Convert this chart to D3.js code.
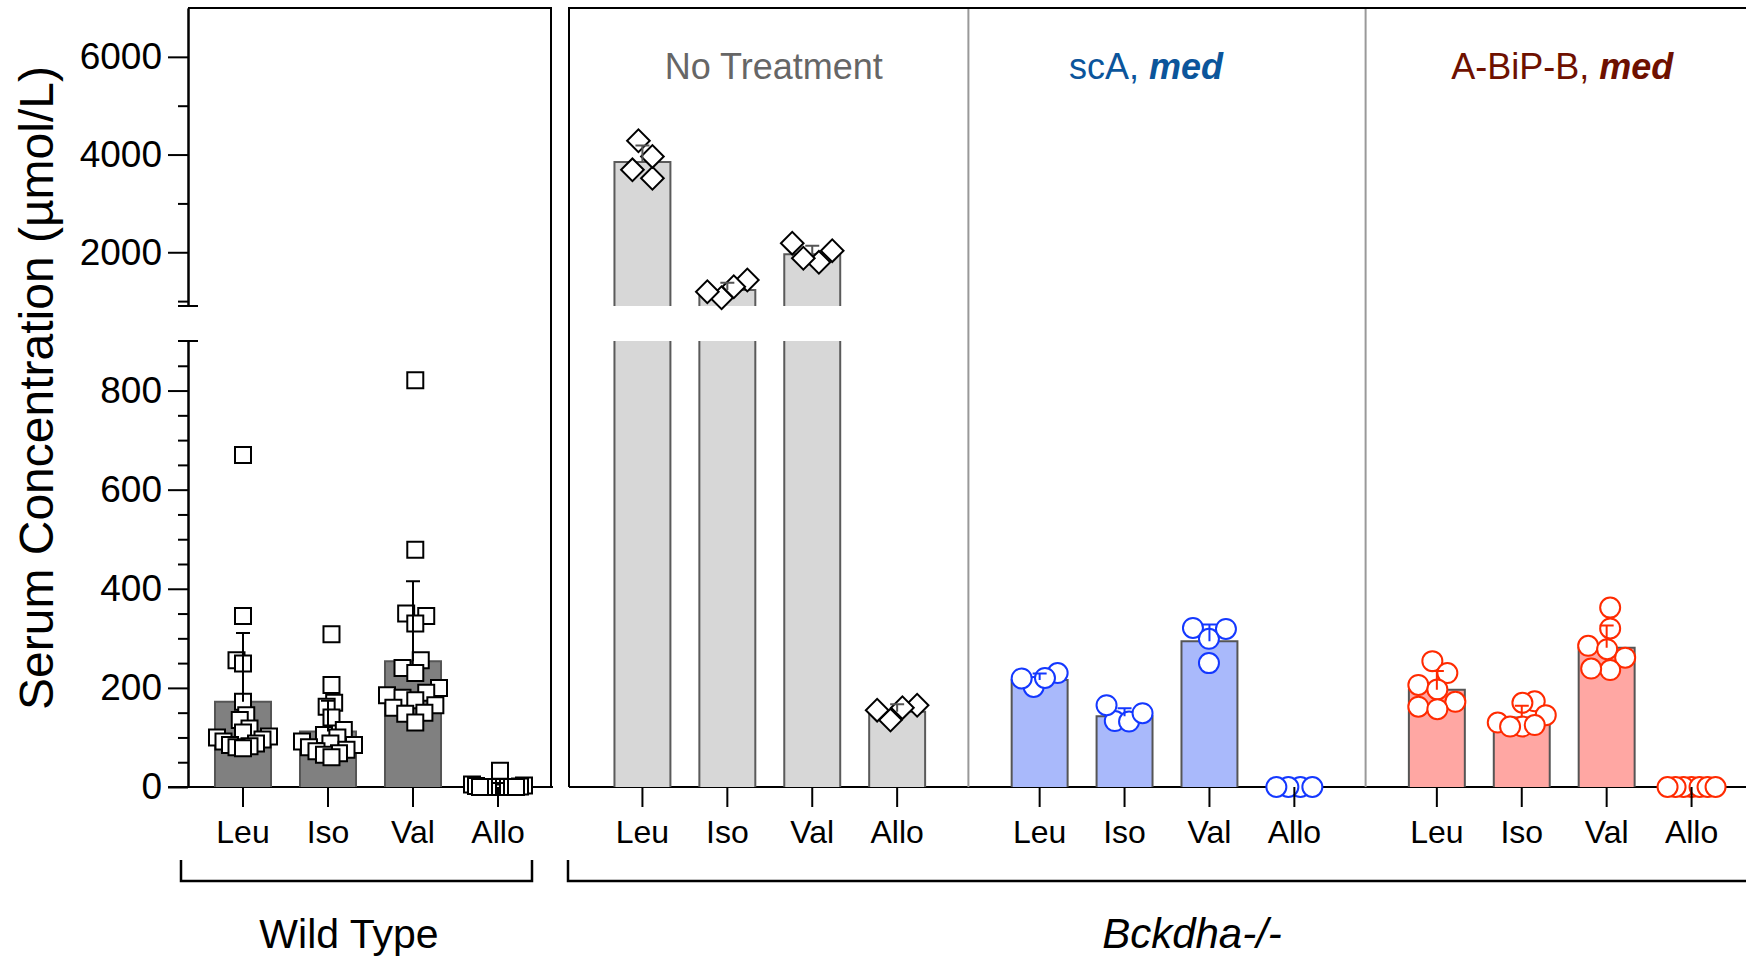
<!DOCTYPE html>
<html>
<head>
<meta charset="utf-8">
<script src="https://cdn.jsdelivr.net/npm/d3@7"></script>
<style>
    body { margin: 0; background: #fff; }
    svg { display: block; font-family: 'Liberation Sans', Arial, Helvetica, sans-serif; }
</style>
</head>
<body>
<svg id="chart"></svg>
<script>
// ---- data ----
const aminoAcids = ['Leu', 'Iso', 'Val', 'Allo'];
const treatments = ['No Treatment', 'scA', 'A-BiP-B'];

const wtMean = [172, 112, 254, 3];
const wtSD = [139, 62, 161, 5];
const wtPoints = [
    [670, 345, 256, 249, 172, 145, 135, 118, 110, 102, 100, 96, 92, 88, 85, 82, 80, 78],
    [308, 206, 170, 162, 140, 115, 105, 100, 92, 88, 85, 80, 75, 72, 68, 65, 60],
    [821, 479, 350, 345, 330, 256, 240, 230, 200, 190, 185, 180, 175, 165, 160, 150, 148, 130],
    [33, 5, 3, 2, 1, 0, 0, 0, 0, 0, 0, 0, 0, 0, 0]
];

const noTreatMean = [3850, 1227, 1959, 152];
const noTreatSD = [337, 149, 176, 15];
const noTreatPoints = [
    [3515, 3961, 4283, 3688],
    [1069, 1432, 1192, 1294],
    [1795, 2185, 1877, 2033],
    [135, 165, 155, 160]
];

const scaMean = [216, 143, 294, 0];
const scaSD = [13, 16, 34, 0];
const scaPoints = [
    [202, 230, 219, 220],
    [133, 165, 132, 149],
    [321, 299, 319, 250],
    [0, 0, 0, 0]
];

const abMean = [196, 140, 281, 0];
const abSD = [38, 24, 45, 0];
const abPoints = [
    [254, 230, 206, 197, 162, 172, 157],
    [173, 170, 145, 122, 125, 130, 122],
    [362, 320, 285, 278, 261, 236, 239],
    [0, 0, 0, 0, 0, 0, 0]
];

const lowerMajor = [0, 200, 400, 600, 800];
const upperMajor = [2000, 4000, 6000];
const upperMinor = [1000, 3000, 5000];
const breakValue = 900;

// ---- layout ----
let width = 1746;
let height = 959;
let axisX = 188;
let baseY = 787;

let svg = d3.select('#chart')
    .attr('width', width)
    .attr('height', height);

let yLower = d3.scaleLinear().domain([0, breakValue]).range([baseY, 341]);
let yUpper = d3.scaleLinear().domain([breakValue, 7000]).range([306, 8]);

function yPos(v) {
    return v > breakValue ? yUpper(v) : yLower(v);
}

let xLeft = d3.scaleBand()
    .domain(aminoAcids)
    .range([190, 551])
    .paddingInner(0.341)
    .paddingOuter(0.294);

let groupX = d3.scaleBand()
    .domain(treatments)
    .range([569, 1765])
    .paddingInner(0.145)
    .paddingOuter(0.078);

let innerX = d3.scaleBand()
    .domain(aminoAcids)
    .range([0, groupX.bandwidth()])
    .paddingInner(0.341)
    .paddingOuter(0.1705);

// simple beeswarm: push points sideways until they stop overlapping,
// then center the cloud and squeeze it into the allowed width
function swarm(values, cx, minDist, maxOff) {
    let order = values.map(function (v, i) { return i; })
        .sort(function (a, b) { return values[a] - values[b]; });
    let placed = [];
    let offs = new Array(values.length);
    order.forEach(function (i, n) {
        let y = yPos(values[i]);
        let dx = 0;
        for (let k = 0; k <= 300; k++) {
            let tries = n % 2 ? [-k, k] : [k, -k];
            let ok = tries.find(function (t) {
                return placed.every(function (p) {
                    return Math.hypot(p.x - t, p.y - y) >= minDist;
                });
            });
            if (ok !== undefined) { dx = ok; break; }
        }
        placed.push({x: dx, y: y});
        offs[i] = dx;
    });
    let mid = (d3.min(offs) + d3.max(offs)) / 2;
    offs = offs.map(function (o) { return o - mid; });
    let widest = d3.max(offs, Math.abs);
    let squeeze = widest > maxOff ? maxOff / widest : 1;
    return values.map(function (v, i) {
        return {x: cx + offs[i] * squeeze, y: yPos(v), v: v};
    });
}

function drawGroup(g, xScale, offset, means, sds, points, st) {
    let bw = xScale.bandwidth();

    aminoAcids.forEach(function (aa, i) {
        let x0 = offset + xScale(aa);
        let m = means[i];
        let segs = [{sc: yLower, lo: 0, hi: Math.min(m, breakValue), top: m <= breakValue}];
        if (m > breakValue) segs.push({sc: yUpper, lo: breakValue, hi: m, top: true});

        segs.forEach(function (s) {
            let yTop = s.sc(s.hi);
            let yBot = s.sc(s.lo);
            g.append('rect')
                .attr('x', x0)
                .attr('y', yTop)
                .attr('width', bw)
                .attr('height', Math.max(0, yBot - yTop))
                .style('fill', st.fill);
            let p = d3.path();
            p.moveTo(x0, yBot);
            p.lineTo(x0, yTop);
            if (s.top) p.lineTo(x0 + bw, yTop); else p.moveTo(x0 + bw, yTop);
            p.lineTo(x0 + bw, yBot);
            g.append('path')
                .attr('d', p.toString())
                .style('fill', 'none')
                .style('stroke', st.barStroke)
                .style('stroke-width', 2);
        });
    });

    aminoAcids.forEach(function (aa, i) {
        let cx = offset + xScale(aa) + bw / 2;
        let pts = swarm(points[i], cx, st.minDist, st.maxOff);
        let sym = d3.symbol()
            .type(st.marker === 'circle' ? d3.symbolCircle : d3.symbolSquare)
            .size(st.marker === 'circle' ? Math.PI * 100 : st.size * st.size);
        g.selectAll(null)
            .data(pts)
            .enter()
            .append('path')
            .attr('d', sym)
            .attr('transform', function (d) {
                return 'translate(' + d.x + ',' + d.y + ')' + (st.marker === 'diamond' ? ' rotate(45)' : '');
            })
            .style('fill', 'white')
            .style('stroke', st.pointStroke)
            .style('stroke-width', 2);
    });

    aminoAcids.forEach(function (aa, i) {
        if (!sds[i]) return;
        let cx = offset + xScale(aa) + bw / 2;
        let y0 = yPos(means[i]);
        let y1 = yPos(means[i] + sds[i]);
        g.append('path')
            .attr('d', 'M' + cx + ',' + y0 + 'V' + y1 + 'M' + (cx - 7) + ',' + y1 + 'H' + (cx + 7))
            .style('fill', 'none')
            .style('stroke', st.errStroke)
            .style('stroke-width', 2);
    });
}

// ---- frames ----
let frame = svg.append('g').style('stroke', '#000').style('stroke-width', 2).style('fill', 'none');
frame.append('path').attr('d', 'M' + axisX + ',8H551V' + baseY);
frame.append('path').attr('d', 'M569,' + baseY + 'V8H' + width);
frame.append('path').attr('d', 'M168,' + baseY + 'H553');
frame.append('path').attr('d', 'M569,' + baseY + 'H' + width);

// panel dividers
let gap = groupX.step() - groupX.bandwidth();
treatments.slice(0, 2).forEach(function (t) {
    let xd = groupX(t) + groupX.bandwidth() + gap / 2;
    svg.append('line')
        .attr('x1', xd).attr('x2', xd)
        .attr('y1', 9).attr('y2', baseY)
        .style('stroke', '#999')
        .style('stroke-width', 2);
});

// ---- bars, points, error bars ----
drawGroup(svg.append('g'), xLeft, 0, wtMean, wtSD, wtPoints,
    {fill: '#808080', barStroke: '#555', marker: 'square', size: 16, minDist: 14,
        maxOff: 26, pointStroke: '#000', errStroke: '#000'});

let groupStyles = [
    {fill: '#d7d7d7', barStroke: '#5a5a5a', marker: 'diamond', size: 16, minDist: 21,
        maxOff: 20, pointStroke: '#000', errStroke: '#555'},
    {fill: '#a9b9fb', barStroke: '#555', marker: 'circle', size: 20, minDist: 19,
        maxOff: 18, pointStroke: '#1438ff', errStroke: '#1438ff'},
    {fill: '#ffa7a3', barStroke: '#555', marker: 'circle', size: 20, minDist: 19,
        maxOff: 24, pointStroke: '#ff2a00', errStroke: '#ff2a00'}
];
let groupMeans = [noTreatMean, scaMean, abMean];
let groupSDs = [noTreatSD, scaSD, abSD];
let groupPoints = [noTreatPoints, scaPoints, abPoints];

treatments.forEach(function (t, k) {
    drawGroup(svg.append('g'), innerX, groupX(t), groupMeans[k], groupSDs[k], groupPoints[k], groupStyles[k]);
});

// ---- y axis (broken) ----
function styleAxis(sel) {
    sel.select('.domain').style('stroke', '#000').style('stroke-width', 2);
    sel.selectAll('.tick line').style('stroke', '#000').style('stroke-width', 2);
    sel.selectAll('.tick text').style('font-size', '37px').style('fill', '#000');
    sel.attr('font-family', null);
}

svg.append('g')
    .attr('transform', 'translate(' + axisX + ',0)')
    .call(d3.axisLeft(yLower).tickValues(lowerMajor).tickSize(20).tickSizeOuter(0).tickPadding(6).tickFormat(d3.format('d')))
    .call(styleAxis);
svg.append('g')
    .attr('transform', 'translate(' + axisX + ',0)')
    .call(d3.axisLeft(yLower).tickValues(d3.range(50, breakValue, 50).filter(function (v) {
        return lowerMajor.indexOf(v) < 0;
    })).tickSize(10).tickSizeOuter(0).tickFormat(''))
    .call(styleAxis);
svg.append('g')
    .attr('transform', 'translate(' + axisX + ',0)')
    .call(d3.axisLeft(yUpper).tickValues(upperMajor).tickSize(20).tickSizeOuter(0).tickPadding(6).tickFormat(d3.format('d')))
    .call(styleAxis);
svg.append('g')
    .attr('transform', 'translate(' + axisX + ',0)')
    .call(d3.axisLeft(yUpper).tickValues(upperMinor).tickSize(10).tickSizeOuter(0).tickFormat(''))
    .call(styleAxis);

// break marks
[yUpper(breakValue), yLower(breakValue)].forEach(function (yb) {
    svg.append('line')
        .attr('x1', axisX - 10).attr('x2', axisX + 10)
        .attr('y1', yb).attr('y2', yb)
        .style('stroke', '#000')
        .style('stroke-width', 2);
});

svg.append('text')
    .attr('transform', 'translate(53,388) rotate(-90)')
    .attr('text-anchor', 'middle')
    .style('font-size', '48px')
    .text('Serum Concentration (µmol/L)');

// ---- x axes ----
function xAxisStyle(sel) {
    sel.select('.domain').remove();
    sel.selectAll('.tick line').style('stroke', '#000').style('stroke-width', 2);
    sel.selectAll('.tick text').style('font-size', '32px').style('fill', '#000');
    sel.attr('font-family', null);
}

svg.append('g')
    .attr('transform', 'translate(0,' + baseY + ')')
    .call(d3.axisBottom(xLeft).tickSize(20).tickPadding(13))
    .call(xAxisStyle);

treatments.forEach(function (t) {
    svg.append('g')
        .attr('transform', 'translate(' + groupX(t) + ',' + baseY + ')')
        .call(d3.axisBottom(innerX).tickSize(20).tickPadding(13))
        .call(xAxisStyle);
});

// ---- panel headers ----
let headerColors = ['#666666', '#0b559b', '#6e1000'];
let headerDx = [4, -21, -2];
treatments.forEach(function (t, k) {
    let txt = svg.append('text')
        .attr('x', groupX(t) + groupX.bandwidth() / 2 + headerDx[k])
        .attr('y', 79)
        .attr('text-anchor', 'middle')
        .style('font-size', '36px')
        .style('fill', headerColors[k]);
    if (k === 0) {
        txt.text(t);
    } else {
        txt.append('tspan').text(t + ', ');
        txt.append('tspan').style('font-weight', 'bold').style('font-style', 'italic').text('med');
    }
});

// ---- group brackets ----
let brackets = svg.append('g').style('stroke', '#000').style('stroke-width', 2.5).style('fill', 'none');
brackets.append('path').attr('d', 'M181,860V881H532V860');
brackets.append('path').attr('d', 'M568,860V881H' + width);

svg.append('text')
    .attr('x', 349)
    .attr('y', 948)
    .attr('text-anchor', 'middle')
    .style('font-size', '41px')
    .text('Wild Type');

svg.append('text')
    .attr('x', 1192)
    .attr('y', 948)
    .attr('text-anchor', 'middle')
    .style('font-size', '42px')
    .style('font-style', 'italic')
    .text('Bckdha-/-');
</script>
</body>
</html>
